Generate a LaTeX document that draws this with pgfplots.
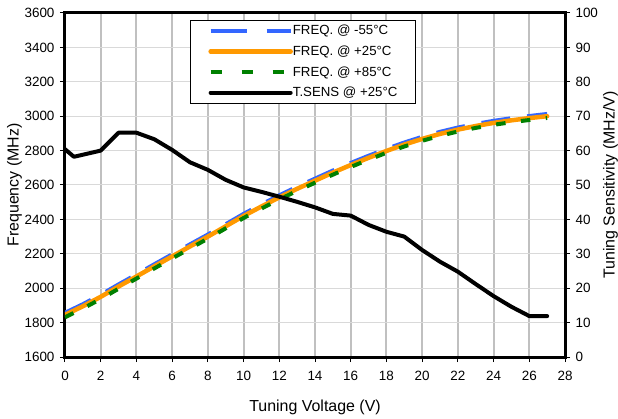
\documentclass[border=0pt]{standalone}
\usepackage{fontspec}
\setmainfont{Liberation Sans}
\usepackage{pgfplots}
\usepackage{pgfplotstable}
\pgfplotsset{compat=1.18}
\definecolor{fblue}{HTML}{3366FF}
\definecolor{forange}{HTML}{FF9900}
\definecolor{fgreen}{HTML}{008000}
\definecolor{vgrid}{HTML}{C0C0C0}
\definecolor{hgrid}{HTML}{D9D9D9}

\pgfplotstableread{
V blue orange green
0 1857 1845 1831
1 1907 1895 1882
2 1962 1950 1937
3 2022 2010 1997
4 2080 2068 2056
5 2139 2127 2115
6 2197 2185 2173
7 2255 2243 2231
8 2312 2300 2288
9 2372 2360 2348
10 2432 2420 2408
11 2487 2475 2463
12 2540 2528 2516
13 2590 2578 2566
14 2637 2625 2613
15 2684 2672 2660
16 2728 2716 2705
17 2770 2758 2747
18 2810 2798 2787
19 2847 2835 2824
20 2880 2868 2857
21 2909 2897 2886
22 2934 2922 2911
23 2955 2943 2932
24 2973 2961 2950
25 2988 2976 2965
26 3001 2989 2978
27 3013 3000 2990
}\freqtable

\pgfplotstableread{
V S
0 60.4
0.5 58.2
2 60.0
3 65.2
4 65.2
5 63.3
6 60.2
7 56.6
8 54.4
9 51.5
10 49.3
11 48.0
12 46.6
13 45.1
14 43.5
15 41.6
16 41.1
17 38.4
18 36.4
19 35.0
20 31.1
21 27.7
22 24.8
23 21.2
24 17.7
25 14.6
26 11.9
27 11.9
}\senstable

\begin{document}
\begin{tikzpicture}
\pgfplotsset{
  every axis/.append style={
    scale only axis, width=500bp, height=344bp,
    xmin=0, xmax=28,
    tick label style={font=\fontsize{13.5}{15}\selectfont},
    label style={font=\fontsize{16}{18}\selectfont},
    /pgf/number format/assume math mode=true,
    /pgf/number format/1000 sep={},
    tick align=outside,
    major tick length=5bp,
    tick style={black, line width=1bp},
  }
}
\begin{axis}[
  name=main,
  axis line style={line width=3bp},
  ymin=1600, ymax=3600,
  ytick={1600,1800,...,3600},
  xtick={0,2,...,28},
  xtick pos=bottom, ytick pos=left,
  xmajorgrids, ymajorgrids,
  major x grid style={vgrid, line width=2bp},
  major y grid style={hgrid, line width=1bp},
  xlabel={Tuning Voltage (V)},
  ylabel={Frequency (MHz)},
  xlabel style={at={(axis description cs:0.5,-0.145)}, anchor=center},
  ylabel style={at={(axis description cs:-0.101,0.5)}, anchor=center, rotate=0},
  yticklabel style={xshift=-2bp},
  xticklabel style={yshift=-6bp},
]
\addplot[fblue, line width=4bp, dash pattern=on 29bp off 17bp] table[x=V, y=blue] {\freqtable};
\addplot[forange, line width=4.5bp, line cap=round, line join=round] table[x=V, y=orange] {\freqtable};
\addplot[fgreen, line width=4bp, dash pattern=on 9.5bp off 15.5bp] table[x=V, y=green] {\freqtable};
\end{axis}
\begin{axis}[
  axis x line=none,
  axis y line*=right,
  axis line style={line width=3bp},
  ymin=0, ymax=100,
  ytick={0,10,...,100},
  ylabel={Tuning Sensitivity (MHz/V)},
  ylabel style={at={(axis description cs:1.091,0.5)}, anchor=center, rotate=0},
  yticklabel style={xshift=2bp},
  legend image code/.code={\draw[#1] (0bp,0bp) -- (80bp,0bp);},
  legend style={
    at={(0.25,0.98)}, anchor=north west,
    draw=black, line width=0.8bp, fill=white,
    font=\fontsize{13.3}{15}\selectfont,
    inner xsep=18bp, inner ysep=3bp,
    row sep=5.5bp,
    nodes={inner xsep=0pt, inner ysep=2bp},
    /tikz/every even column/.style={column sep=0pt},
  },
  legend cell align=left,
]
\addlegendimage{fblue, line width=4bp, dash pattern=on 36bp off 20bp}
\addlegendentry{FREQ. @ -55°C}
\addlegendimage{forange, line width=4.5bp, line cap=round}
\addlegendentry{FREQ. @ +25°C}
\addlegendimage{fgreen, line width=4bp, dash pattern=on 11bp off 20bp}
\addlegendentry{FREQ. @ +85°C}
\addplot[black, line width=4bp, line cap=round, line join=round] table[x=V, y=S] {\senstable};
\addlegendentry{T.SENS @ +25°C}
\end{axis}
\pgfresetboundingbox
\path[use as bounding box] ([shift={(-65bp,-62bp)}]main.south west) rectangle ([shift={(53bp,13bp)}]main.north east);
\end{tikzpicture}
\end{document}
